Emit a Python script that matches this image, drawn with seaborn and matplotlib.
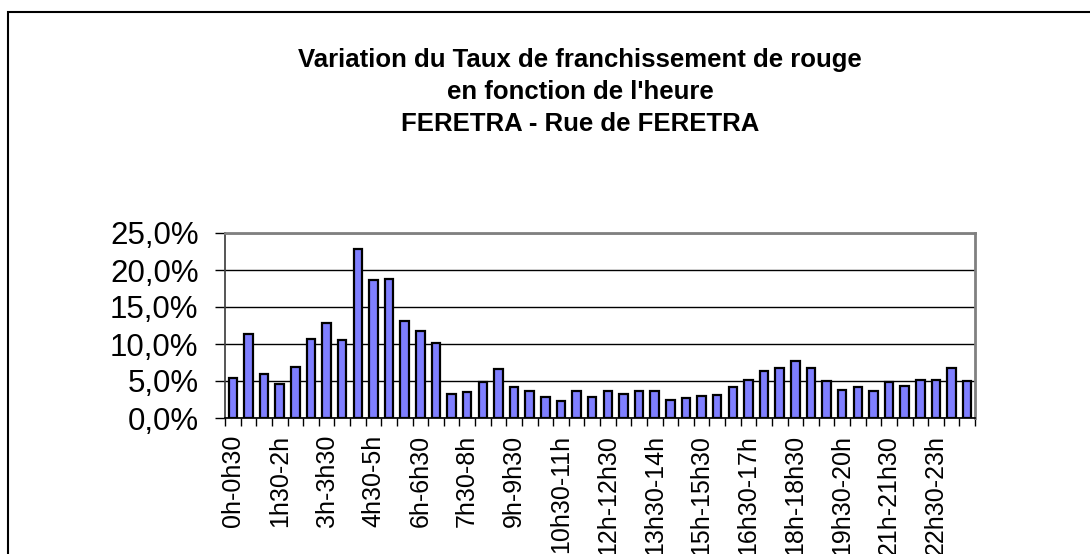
import matplotlib
matplotlib.use("Agg")
import matplotlib.pyplot as plt
from matplotlib.patches import Rectangle
from matplotlib.ticker import FuncFormatter, FixedLocator
import seaborn as sns

# tranches d'une demi-heure
slots = [
    "0h-0h30", "0h30-1h", "1h-1h30", "1h30-2h", "2h-2h30", "2h30-3h",
    "3h-3h30", "3h30-4h", "4h-4h30", "4h30-5h", "5h-5h30", "5h30-6h",
    "6h-6h30", "6h30-7h", "7h-7h30", "7h30-8h", "8h-8h30", "8h30-9h",
    "9h-9h30", "9h30-10h", "10h-10h30", "10h30-11h", "11h-11h30", "11h30-12h",
    "12h-12h30", "12h30-13h", "13h-13h30", "13h30-14h", "14h-14h30", "14h30-15h",
    "15h-15h30", "15h30-16h", "16h-16h30", "16h30-17h", "17h-17h30", "17h30-18h",
    "18h-18h30", "18h30-19h", "19h-19h30", "19h30-20h", "20h-20h30", "20h30-21h",
    "21h-21h30", "21h30-22h", "22h-22h30", "22h30-23h", "23h-23h30", "23h30-24h",
]
# taux de franchissement (%)
rates = [
    5.4, 11.4, 5.9, 4.6, 6.9, 10.7, 12.9, 10.5, 22.8, 18.6, 18.8, 13.1,
    11.8, 10.1, 3.3, 3.5, 4.9, 6.6, 4.2, 3.7, 2.8, 2.3, 3.7, 2.9,
    3.6, 3.3, 3.6, 3.6, 2.5, 2.7, 3.0, 3.1, 4.2, 5.2, 6.4, 6.7,
    7.7, 6.7, 5.0, 3.8, 4.2, 3.6, 4.8, 4.3, 5.1, 5.1, 6.7, 5.0,
]
title_lines = [
    "Variation du Taux de franchissement de rouge",
    "en fonction de l'heure",
    "FERETRA - Rue de FERETRA",
]

sns.set_theme(style="white")
plt.rcParams['font.family'] = ['Liberation Sans', 'DejaVu Sans']
plt.rcParams['text.color'] = 'black'
plt.rcParams['xtick.color'] = 'black'
plt.rcParams['ytick.color'] = 'black'

fig = plt.figure(figsize=(10.9, 5.54), dpi=100)
ax = fig.add_axes([225 / 1090, 1 - 418 / 554, 750 / 1090, 185 / 554])

sns.barplot(x=slots, y=rates, color="#7F7FFF", saturation=1, edgecolor="black",
            linewidth=1.6, width=0.55, ax=ax)

ax.set_xlim(-0.5, len(slots) - 0.5)
ax.set_ylim(0, 25)
ax.set_yticks([0, 5, 10, 15, 20, 25])
ax.yaxis.set_major_formatter(FuncFormatter(lambda v, p: f"{v:.1f}%".replace(".", ",")))
ax.yaxis.grid(True, color="black", linewidth=1)
ax.set_axisbelow(True)
ax.set_xlabel("")
ax.set_ylabel("")

# libellés une tranche sur trois, graduations entre les barres
ax.set_xticks(range(0, len(slots), 3))
ax.set_xticklabels(slots[::3], rotation=90, fontsize=18, va="top", ha="center", color="black")
ax.xaxis.set_minor_locator(FixedLocator([i - 0.5 for i in range(len(slots) + 1)]))
ax.tick_params(axis="x", which="major", length=0, pad=12)
ax.tick_params(axis="x", which="minor", length=6, width=1, color="black", direction="out", bottom=True)
ax.tick_params(axis="y", which="major", length=7, width=1, color="black", direction="out",
               left=True, labelsize=22.5, pad=12, labelcolor="black")

for side in ["top", "right"]:
    ax.spines[side].set_color("#808080")
    ax.spines[side].set_linewidth(2)
ax.spines["left"].set_color("#404040")
ax.spines["bottom"].set_color("black")

for i, line in enumerate(title_lines):
    fig.text(580 / 1090, 1 - (60 + 32 * i) / 554, line, ha="center", va="center",
             fontsize=18.5, fontweight="bold", color="black")

fig.patches.append(Rectangle((8 / 1090, -0.05), 1.5, 1.05 - 12 / 554, transform=fig.transFigure,
                             fill=False, edgecolor="black", linewidth=1.5))

fig.savefig("out.png", dpi=100)
